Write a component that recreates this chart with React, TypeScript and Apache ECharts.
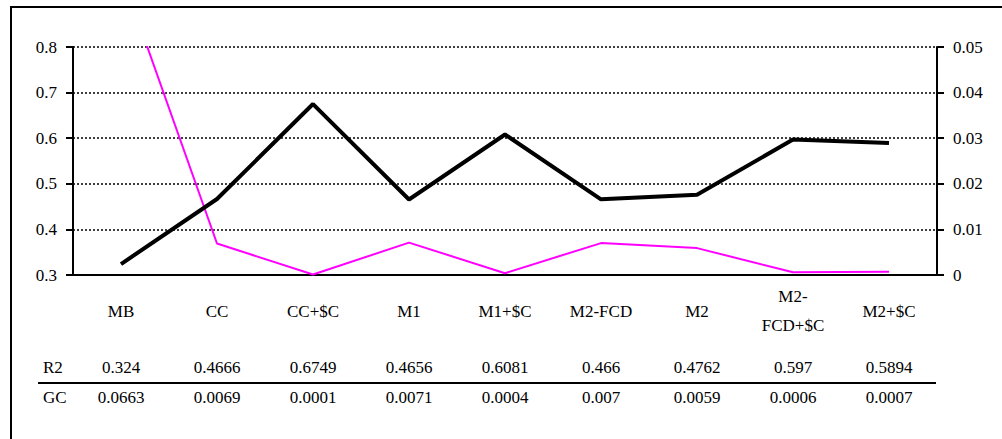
import React, { useEffect, useRef } from "react";
import * as echarts from "echarts";

const categories = ["MB", "CC", "CC+$C", "M1", "M1+$C", "M2-FCD", "M2", "M2-\nFCD+$C", "M2+$C"];
const r2Values = [0.324, 0.4666, 0.6749, 0.4656, 0.6081, 0.466, 0.4762, 0.597, 0.5894];
const gcValues = [0.0663, 0.0069, 0.0001, 0.0071, 0.0004, 0.007, 0.0059, 0.0006, 0.0007];
const rowNames = ["R2", "GC"];
const leftAxis = { min: 0.3, max: 0.8, step: 0.1 };
const rightAxis = { min: 0, max: 0.05, step: 0.01 };

const FONT = "Liberation Serif";
const FS = 17;

export default function App() {
  const ref = useRef<HTMLDivElement>(null);
  useEffect(() => {
    if (!ref.current) return;
    const chart = echarts.init(ref.current, null, { renderer: "svg" });
    const catLabel = {
      interval: 0,
      color: "#000",
      fontFamily: FONT,
      fontSize: FS,
      verticalAlign: "middle",
      lineHeight: 29,
      margin: 36,
    };
    chart.setOption({
      animation: false,
      backgroundColor: "#fff",
      grid: { left: 73, right: 65, top: 47, bottom: 164 },
      xAxis: [
        {
          type: "category",
          data: categories,
          boundaryGap: true,
          axisLine: { show: true, lineStyle: { color: "#000", width: 2 } },
          axisTick: { show: false },
          axisLabel: catLabel,
          splitLine: { show: false },
        },
        {
          type: "category",
          data: r2Values.map(String),
          position: "bottom",
          offset: 56,
          boundaryGap: true,
          axisLine: { show: false },
          axisTick: { show: false },
          axisLabel: catLabel,
        },
        {
          type: "category",
          data: gcValues.map(String),
          position: "bottom",
          offset: 86,
          boundaryGap: true,
          axisLine: { show: false },
          axisTick: { show: false },
          axisLabel: catLabel,
        },
      ],
      yAxis: [
        {
          type: "value",
          min: leftAxis.min,
          max: leftAxis.max,
          interval: leftAxis.step,
          position: "left",
          axisLine: { show: true, lineStyle: { color: "#000", width: 2 } },
          axisTick: { show: true, inside: false, length: 7, lineStyle: { color: "#000", width: 2 } },
          axisLabel: {
            color: "#000",
            fontFamily: FONT,
            fontSize: FS,
            margin: 16,
            formatter: (v: number) => v.toFixed(1),
          },
          splitLine: { show: true, lineStyle: { color: "#000", width: 1.5, type: [2, 2] } },
        },
        {
          type: "value",
          min: rightAxis.min,
          max: rightAxis.max,
          interval: rightAxis.step,
          position: "right",
          axisLine: { show: true, lineStyle: { color: "#000", width: 2 } },
          axisTick: { show: true, inside: false, length: 7, lineStyle: { color: "#000", width: 2 } },
          axisLabel: {
            color: "#000",
            fontFamily: FONT,
            fontSize: FS,
            margin: 16,
            formatter: (v: number) => (v === 0 ? "0" : v.toFixed(2)),
          },
          splitLine: { show: false },
        },
      ],
      series: [
        {
          name: "R2",
          type: "line",
          xAxisIndex: 0,
          yAxisIndex: 0,
          data: r2Values,
          symbol: "none",
          clip: true,
          lineStyle: { color: "#000", width: 4 },
          z: 3,
        },
        {
          name: "GC",
          type: "line",
          xAxisIndex: 0,
          yAxisIndex: 1,
          data: gcValues,
          symbol: "none",
          clip: true,
          lineStyle: { color: "#FF00FF", width: 2 },
          z: 2,
        },
      ],
      graphic: [
        {
          type: "rect",
          shape: { x: 11, y: 7, width: 1100, height: 600 },
          style: { fill: "none", stroke: "#000", lineWidth: 2 },
          silent: true,
        },
        {
          type: "line",
          shape: { x1: 38, y1: 383, x2: 936, y2: 383 },
          style: { stroke: "#000", lineWidth: 2 },
          silent: true,
        },
        ...rowNames.map((name, i) => ({
          type: "text",
          x: 43,
          y: i === 0 ? 367 : 397,
          style: {
            text: name,
            fill: "#000",
            font: `${FS}px "${FONT}"`,
            textAlign: "left",
            textVerticalAlign: "middle",
            verticalAlign: "middle",
          },
          silent: true,
        })),
      ],
    });
    return () => chart.dispose();
  }, []);
  return (
    <div
      ref={ref}
      style={{ position: "fixed", left: 0, top: 0, width: 1002, height: 439, background: "#fff" }}
    />
  );
}
